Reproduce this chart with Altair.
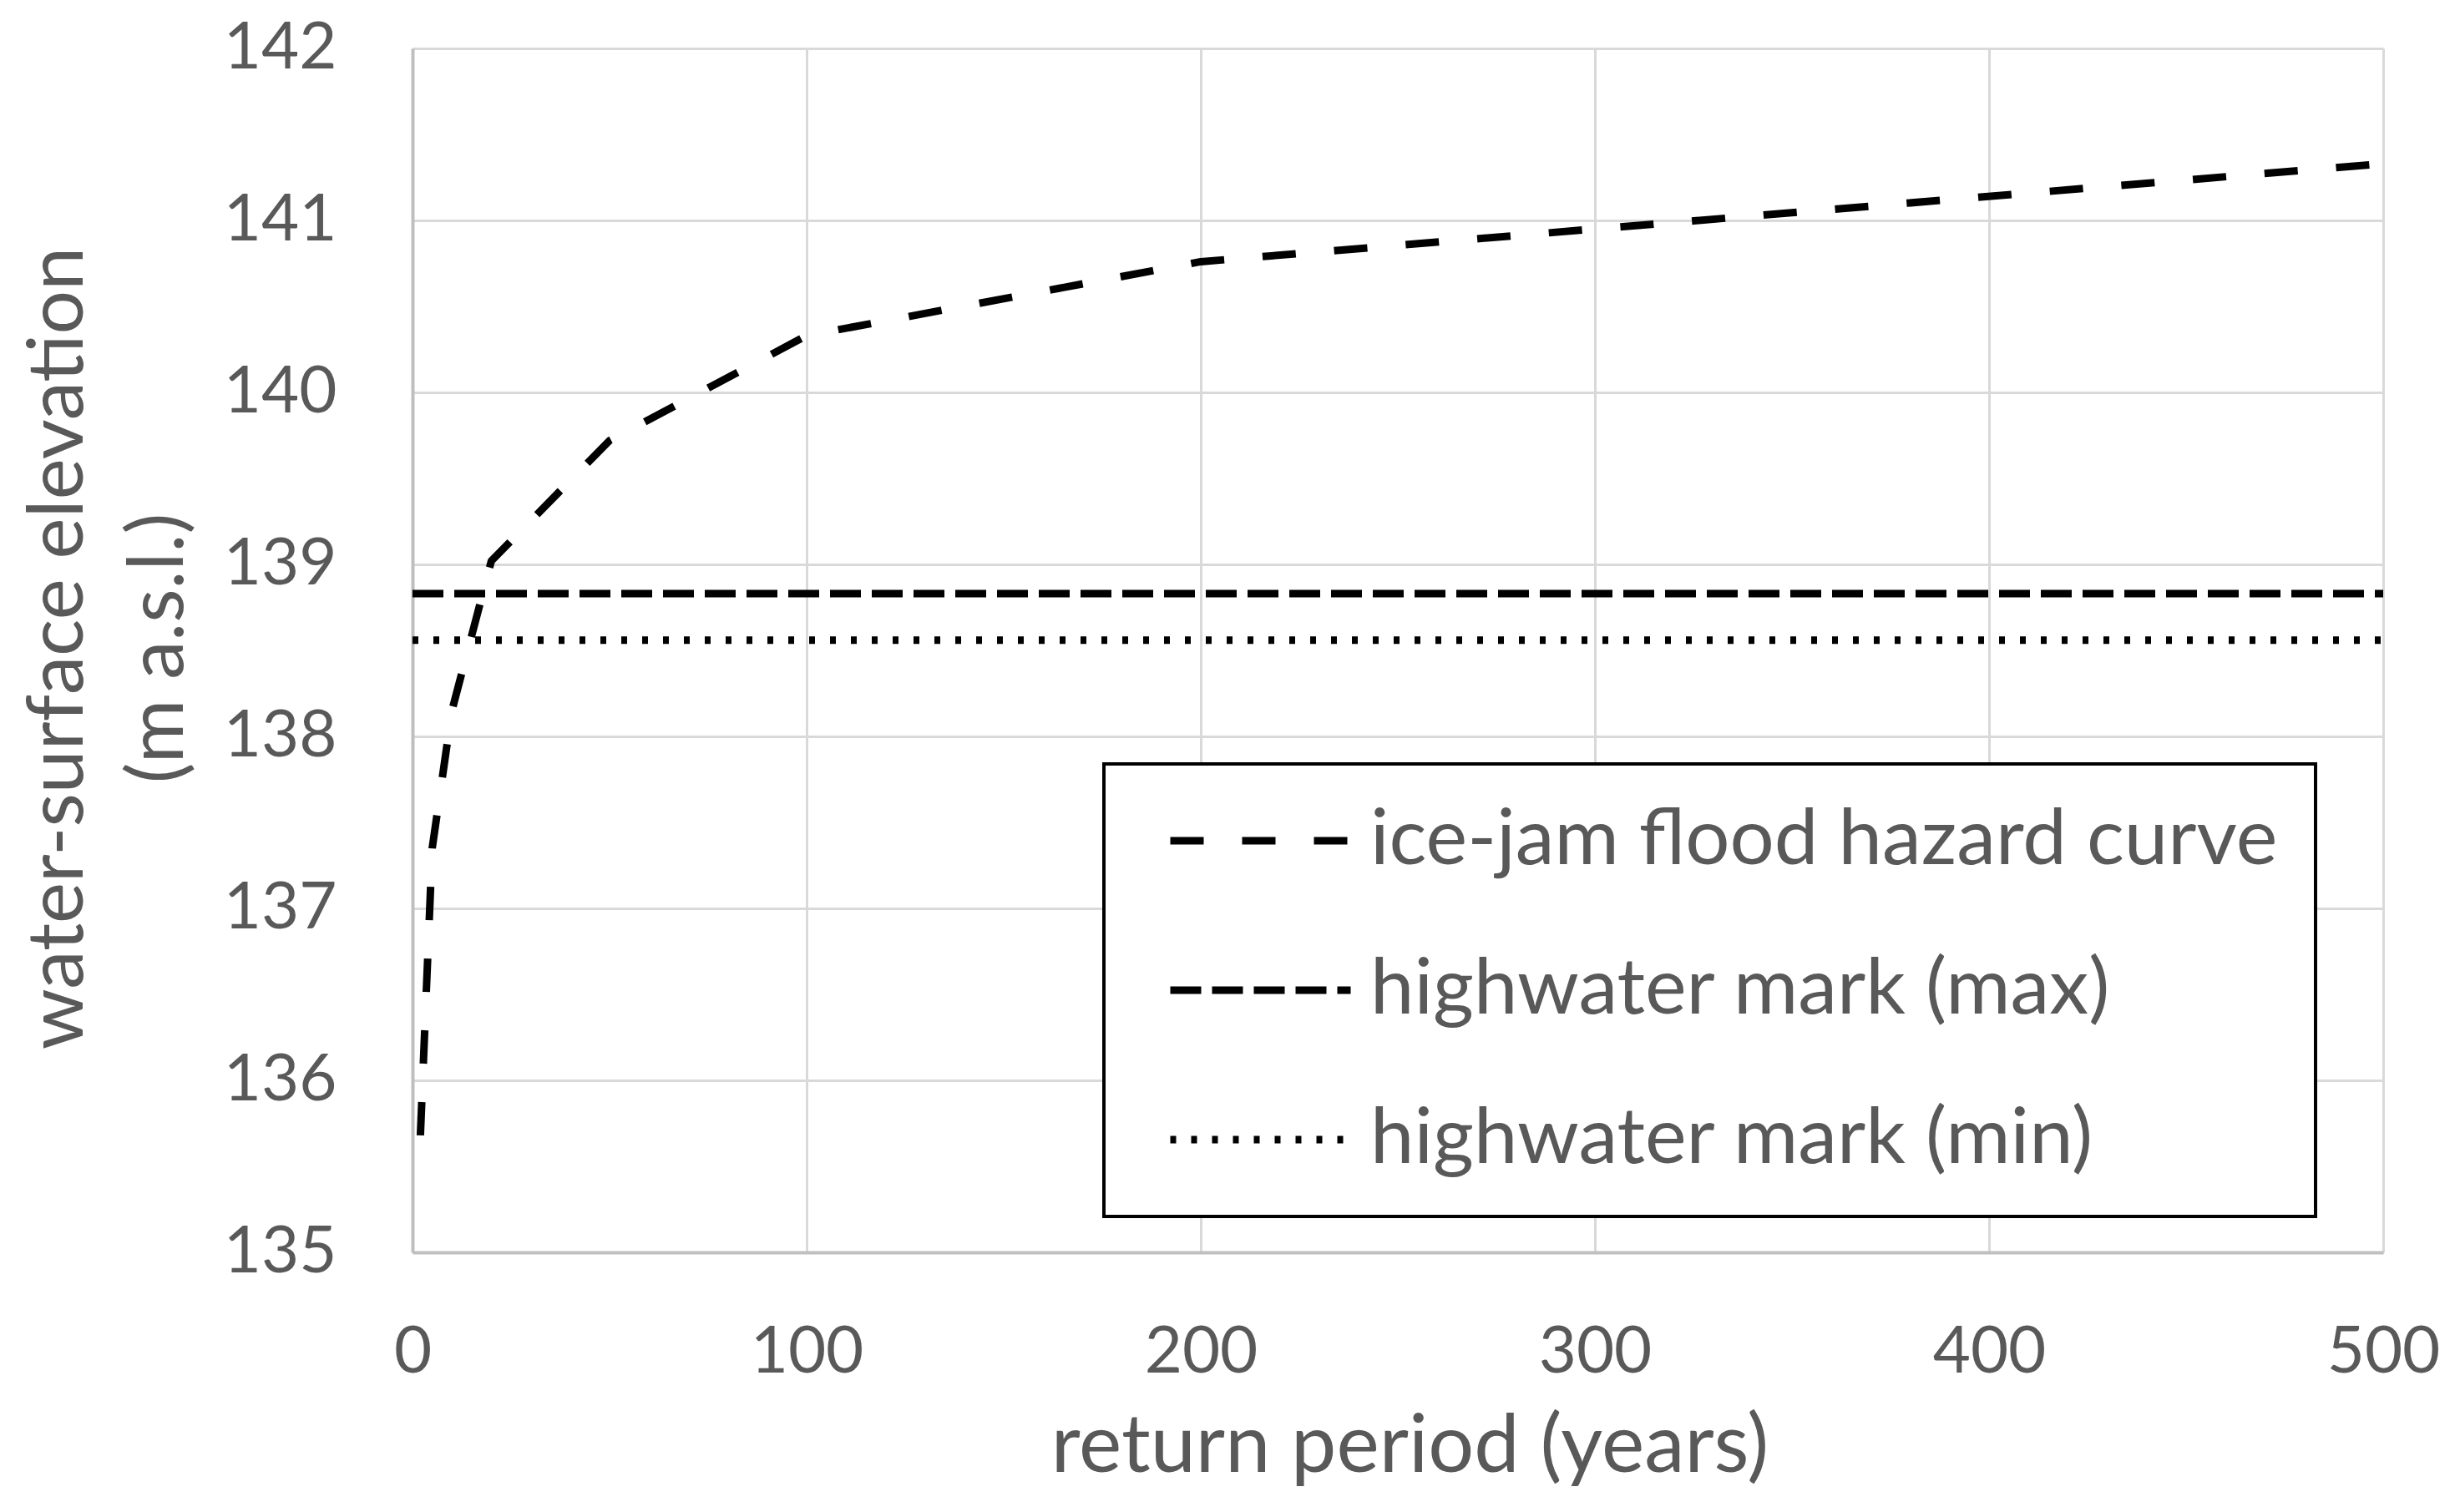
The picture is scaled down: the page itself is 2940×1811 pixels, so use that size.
import altair as alt
import pandas as pd

# ---- data ----
series_names = ["ice-jam flood hazard curve", "highwater mark (max)", "highwater mark (min)"]
return_period = [2, 5, 10, 20, 50, 100, 200, 500]
curve_elev = [135.68, 137.35, 138.15, 139.02, 139.72, 140.33, 140.76, 141.33]
hw_x = [0, 500]
hw_max = [138.83, 138.83]
hw_min = [138.56, 138.56]
x_ticks = [0, 100, 200, 300, 400, 500]
y_ticks = [135, 136, 137, 138, 139, 140, 141, 142]

rows = []
for x, y in zip(return_period, curve_elev):
    rows.append({"series": series_names[0], "x": x, "y": y})
for x, y in zip(hw_x, hw_max):
    rows.append({"series": series_names[1], "x": x, "y": y})
for x, y in zip(hw_x, hw_min):
    rows.append({"series": series_names[2], "x": x, "y": y})
df = pd.DataFrame(rows)

FONT = "Lato"
GREY = "#595959"

chart = alt.Chart(df).mark_line(color="black", strokeWidth=9, strokeJoin="round").encode(
    x=alt.X(
        "x:Q",
        scale=alt.Scale(domain=[0, 500], nice=False),
        axis=alt.Axis(
            values=x_ticks, title="return period (years)",
            labelBaseline="alphabetic", labelPadding=143, labelFlush=False,
            titleX=1194, titleY=262, titleBaseline="alphabetic", titleAlign="center",
            titleFontSize=97,
        ),
    ),
    y=alt.Y(
        "y:Q",
        scale=alt.Scale(domain=[135, 142], nice=False, zero=False),
        axis=alt.Axis(
            values=y_ticks, title=["water-surface elevation", "(m a.s.l.)"],
            labelPadding=91, labelFlush=False,
            titleAngle=270, titleX=-396, titleY=718, titleAlign="center",
            titleBaseline="alphabetic", titleLineHeight=120, titleFontSize=93,
        ),
    ),
    strokeDash=alt.StrokeDash(
        "series:N",
        scale=alt.Scale(domain=series_names, range=[[40, 46], [37, 13], [7, 18]]),
        legend=alt.Legend(
            title=None, orient="none", legendX=828, legendY=857,
            strokeColor="black", fillColor="white", padding=45,
            symbolType="stroke", symbolSize=46656, symbolStrokeWidth=9,
            symbolStrokeColor="black", symbolOffset=30,
            labelFont=FONT, labelFontSize=94, labelColor=GREY, labelLimit=3000,
            labelOffset=19, rowPadding=85, clipHeight=94,
        ),
    ),
).properties(
    width=2360, height=1442,
    autosize=alt.AutoSizeParams(type="none"),
    padding={"left": 486, "top": 50, "right": 78, "bottom": 303},
    background="white",
).configure_view(strokeWidth=0).configure_axis(
    grid=True, gridColor="#d9d9d9", gridWidth=3,
    domainColor="#bfbfbf", domainWidth=4,
    ticks=False, tickSize=0,
    labelFont=FONT, labelFontSize=78, labelColor=GREY,
    titleFont=FONT, titleColor=GREY, titleFontWeight="normal",
).configure_legend(strokeWidth=4)

chart.save("out.html", embed_options={"renderer": "svg", "actions": False})
